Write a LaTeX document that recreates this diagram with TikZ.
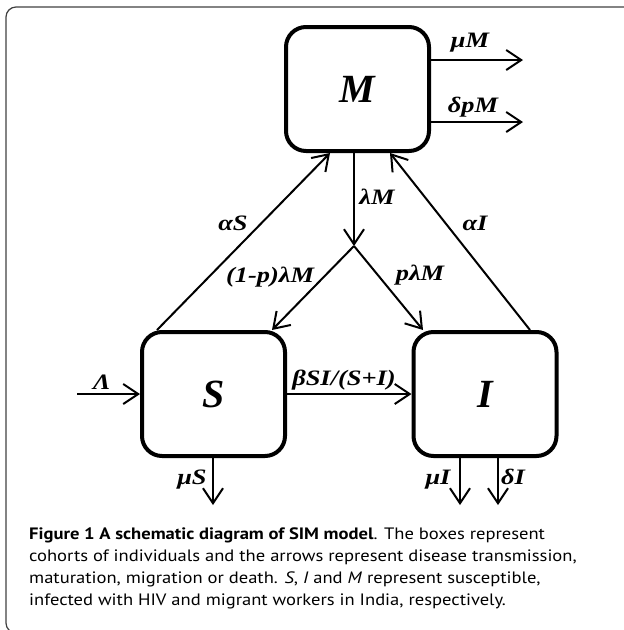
\documentclass[tikz,border=0pt]{standalone}
\usepackage{fontspec}
\setmainfont{Liberation Serif}
\newfontfamily\lblfont[FakeStretch=1.2]{Liberation Serif}
\newfontfamily\capfont[FakeStretch=1.125]{PT Sans}
\usetikzlibrary{positioning}
\usetikzlibrary{arrows.meta}
\tikzstyle{box} = [draw=black,line width=4pt,rounded corners=20pt,minimum width=143pt,minimum height=124pt,inner sep=0pt,font=\fontsize{40}{40}\selectfont\bfseries\itshape]
\tikzstyle{lbl} = [inner sep=0pt,font=\lblfont\fontsize{22}{22}\selectfont\bfseries\itshape]
\tikzstyle{flow} = [line width=2pt]
\tikzset{>={Straight Barb[length=15pt,width=20pt]}}

\begin{document}
\begin{tikzpicture}[x=1pt,y=-1pt]
  \useasboundingbox (0,0) rectangle (624,630);
  \clip (0,0) rectangle (624,630);
  \draw[black!75,line width=1.2pt,rounded corners=10pt] (6,7) rectangle (680,633);

  \node [box] (M) at (357.5,89) {M};
  \node [box] (S) at (213.5,394) {S};
  \node [box] (I) at (485,394) {I};
  \coordinate (jn) at (354,246);

  \coordinate (muM) at (523,60);
  \coordinate (dpM) at (523,122);
  \coordinate (Lin) at (77,394);
  \coordinate (muS) at (213,505);
  \coordinate (muI) at (460,505);
  \coordinate (dI) at (498,505);
  \coordinate (aSs) at (157,0);
  \coordinate (aSe) at (330,0);
  \coordinate (aIs) at (530,0);
  \coordinate (aIe) at (390,0);
  \coordinate (toS) at (272,0);
  \coordinate (toI) at (423,0);

	\draw [flow,->] (M.east |- muM) -- (muM) ;
	\draw [flow,->] (M.east |- dpM) -- (dpM) ;
	\draw [flow,->] (M.south -| jn) -- (jn) ;
	\draw [flow,->] (jn) -- (S.north -| toS) ;
	\draw [flow,->] (jn) -- (I.north -| toI) ;
	\draw [flow,->] (S.north -| aSs) -- (M.south -| aSe) ;
	\draw [flow,->] (I.north -| aIs) -- (M.south -| aIe) ;
	\draw [flow,->] (S) -- (I) ;
	\draw [flow,->] (Lin) -- (S) ;
	\draw [flow,->] (S.south -| muS) -- (muS) ;
	\draw [flow,->] (I.south -| muI) -- (muI) ;
	\draw [flow,->] (I.south -| dI) -- (dI) ;

  \node [lbl] (lmuM) at (470,43) {μM};
  \node [lbl] (ldpM) at (473,107) {δpM};
  \node [lbl] (llM) at (377,197) {λM};
  \node [lbl] (laS) at (233,223) {αS};
  \node [lbl] (laI) at (475,223) {αI};
  \node [lbl] (lqlM) at (270,277) {(1-p)λM};
  \node [lbl] (lplM) at (420,275) {pλM};
  \node [lbl] (lbeta) at (344,380) {βSI/(S+I)};
  \node [lbl] (lLam) at (102,382) {Λ};
  \node [lbl] (lmuS) at (192,480) {μS};
  \node [lbl] (lmuI) at (438,480) {μI};
  \node [lbl] (ldI) at (513,477) {δI};

  \node [anchor=north west,inner sep=0pt,align=left,
    font=\capfont\fontsize{16.5}{22}\selectfont] (cap) at (29,528)
    {{\bfseries Figure 1 A schematic diagram of SIM model}. The boxes represent\\
     cohorts of individuals and the arrows represent disease transmission,\\
     maturation, migration or death. \textit{S}, \textit{I} and \textit{M} represent susceptible,\\
     infected with HIV and migrant workers in India, respectively.};
\end{tikzpicture}
\end{document}
